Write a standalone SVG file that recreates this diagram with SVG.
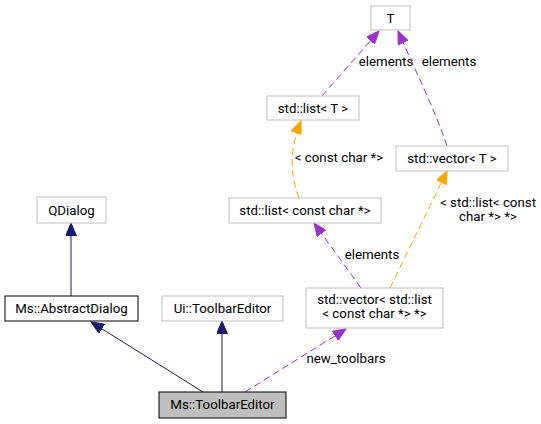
<svg xmlns="http://www.w3.org/2000/svg" width="541" height="424" viewBox="0 0 541 424">
<style>
text{font-family:Roboto,"Liberation Sans",sans-serif;font-size:13.3px;fill:#000;text-anchor:middle}
.box{fill:#fff;stroke:#bfbfbf;stroke-width:1}
.sel{fill:#bfbfbf;stroke:#000;stroke-width:1}
.blk{fill:#fff;stroke:#000;stroke-width:1}
.inh{fill:none;stroke:#191970;stroke-width:1}
.use{fill:none;stroke:#9a32cd;stroke-width:1;stroke-dasharray:7,4}
.tpl{fill:none;stroke:#ffa500;stroke-width:1;stroke-dasharray:7,4}
</style>
<defs>
<marker id="aB" markerUnits="userSpaceOnUse" markerWidth="14" markerHeight="11" refX="13" refY="5.5" orient="auto"><path d="M0,0 L13,5.5 L0,11 z" fill="#191970" stroke="#191970"/></marker>
<marker id="aP" markerUnits="userSpaceOnUse" markerWidth="14" markerHeight="11" refX="13" refY="5.5" orient="auto"><path d="M0,0 L13,5.5 L0,11 z" fill="#9a32cd" stroke="#9a32cd"/></marker>
<marker id="aO" markerUnits="userSpaceOnUse" markerWidth="14" markerHeight="11" refX="13" refY="5.5" orient="auto"><path d="M0,0 L13,5.5 L0,11 z" fill="#ffa500" stroke="#ffa500"/></marker>
</defs>
<g id="connectors">
<path class="inh" d="M71,296 L71,223" marker-end="url(#aB)"/>
<path class="inh" d="M203,392 L91,322" marker-end="url(#aB)"/>
<path class="inh" d="M222,392 L222,321" marker-end="url(#aB)"/>
<path class="use" d="M245,392 L346,329" marker-end="url(#aP)"/>
<text x="346" y="363">new_toolbars</text>
<path class="use" d="M361,288 L314,223" marker-end="url(#aP)"/>
<text x="372" y="259">elements</text>
<path class="tpl" d="M390,288 L447,171" marker-end="url(#aO)"/>
<text x="488" y="207">&lt; std::list&lt; const</text>
<text x="488" y="221">char *&gt; *&gt;</text>
<path class="tpl" d="M299,198 C290,176 289,150 301,121" marker-end="url(#aO)"/>
<text x="339" y="162">&lt; const char *&gt;</text>
<path class="use" d="M322,96 L379,31" marker-end="url(#aP)"/>
<text x="386" y="66">elements</text>
<path class="use" d="M447,146 C435,110 415,70 398,31" marker-end="url(#aP)"/>
<text x="449" y="66">elements</text>
</g>
<g id="T"><rect class="box" x="371" y="6" width="39" height="24"/><text x="390.5" y="22.5">T</text></g>
<g id="std_list_T"><rect class="box" x="267" y="96" width="92" height="24"/><text x="313" y="112.5">std::list&lt; T &gt;</text></g>
<g id="std_vector_T"><rect class="box" x="396" y="146" width="112" height="25"/><text x="452" y="163">std::vector&lt; T &gt;</text></g>
<g id="std_list_const_char"><rect class="box" x="229" y="198" width="152" height="25"/><text x="305" y="215">std::list&lt; const char *&gt;</text></g>
<g id="std_vector_list"><rect class="box" x="306" y="288" width="137" height="40"/><text x="374.5" y="304">std::vector&lt; std::list</text><text x="374.5" y="318">&lt; const char *&gt; *&gt;</text></g>
<g id="QDialog"><rect class="box" x="37" y="197" width="69" height="26"/><text x="71.5" y="214.5">QDialog</text></g>
<g id="AbstractDialog"><rect class="blk" x="5" y="296" width="133" height="25"/><text x="71.5" y="313">Ms::AbstractDialog</text></g>
<g id="UiToolbarEditor"><rect class="box" x="162" y="296" width="121" height="25"/><text x="222.5" y="313">Ui::ToolbarEditor</text></g>
<g id="ToolbarEditor"><rect class="sel" x="159" y="392" width="127" height="26"/><text x="222.5" y="409">Ms::ToolbarEditor</text></g>
</svg>
